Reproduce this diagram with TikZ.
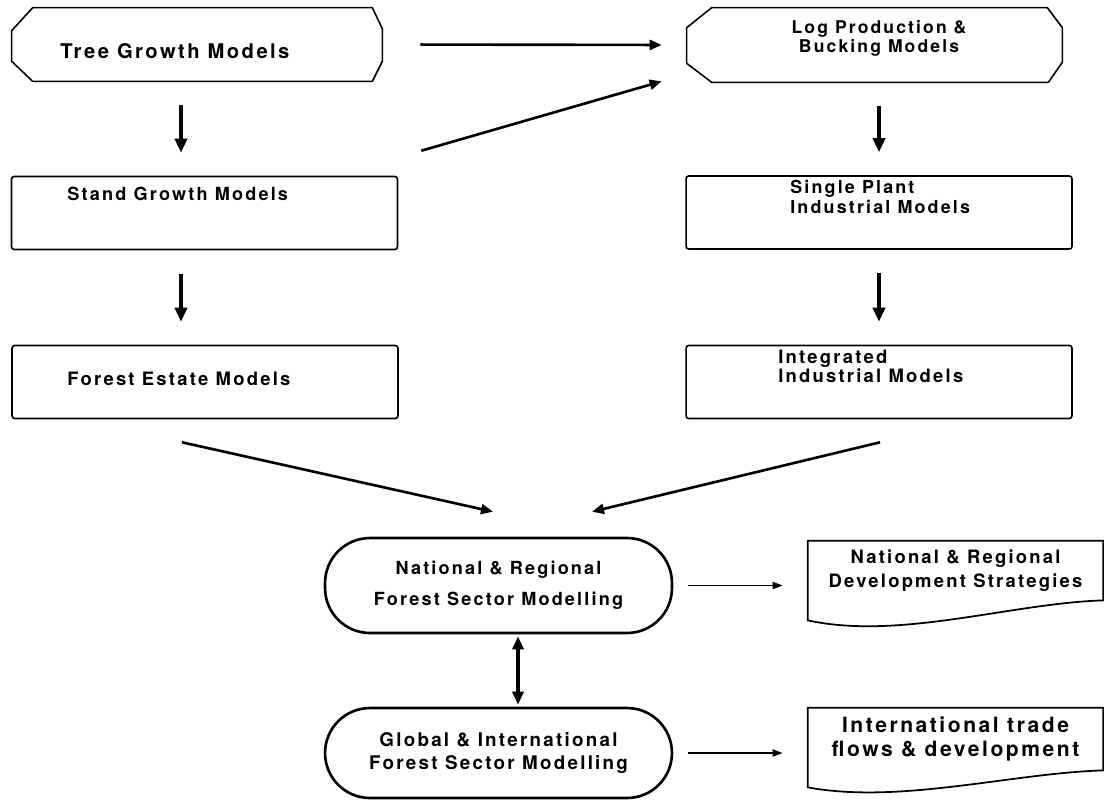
\documentclass[tikz,border=0pt]{standalone}
\usepackage{fontspec}
\newfontfamily\boxfont[LetterSpace=12]{TeX Gyre Heros}
\usetikzlibrary{arrows.meta,calc}

\begin{document}
\begin{tikzpicture}[x=0.02cm, y=-0.02cm,
		lettering/.style 2 args={font=\boxfont\bfseries\fontsize{#1}{#2}\selectfont},
		box/.style={draw, line width=0.9pt, rounded corners=1.5pt, minimum width=7.72cm, minimum height=1.46cm},
		octbox/.style={minimum height=1.46cm},
		octline/.style={line width=0.9pt, line join=round},
		pill/.style={draw, line width=1.5pt, rounded corners=0.9cm, minimum width=6.94cm, align=center},
		docbox/.style={minimum width=5.9cm, align=center},
		txt/.style={inner sep=0pt, anchor=north west, align=left},
		bigarrow/.style={line width=2.2pt, -{Triangle[width=0.24cm,length=0.28cm]}, shorten <=0.47cm, shorten >=0.46cm},
		arrow/.style={line width=1.5pt, -{Triangle[width=0.2cm,length=0.24cm]}},
		dblarrow/.style={line width=1.8pt, {Triangle[width=0.22cm,length=0.26cm]}-{Triangle[width=0.22cm,length=0.26cm]}, shorten <=0.04cm, shorten >=0.04cm},
		smallarrow/.style={line width=1pt, -{Triangle[width=0.14cm,length=0.2cm]}, shorten <=0.3cm, shorten >=0.5cm}]
	\useasboundingbox (0,0) rectangle (1104,801);

	% Top row
	\node[octbox, minimum width=7.4cm] (tree) at (197,44.5) {};
	\draw[octline] ($(tree.north west)+(21,0)$) -- ($(tree.north east)+(-10,0)$) -- ($(tree.north east)+(0,21)$)
		-- ($(tree.south east)+(0,-20)$) -- ($(tree.south east)+(-10,0)$) -- ($(tree.south west)+(21,0)$)
		-- ($(tree.south west)+(0,-20)$) -- ($(tree.north west)+(0,23)$) -- cycle;
	\node[txt, lettering={11.5}{13}] (treetxt) at (60,43) {Tree Growth Models};
	\node[octbox, minimum width=7.5cm, minimum height=1.48cm] (log) at (874.5,45) {};
	\draw[octline] ($(log.north west)+(25,0)$) -- ($(log.north east)+(-15,0)$) -- ($(log.north east)+(0,20)$)
		-- ($(log.south east)+(0,-20)$) -- ($(log.south east)+(-14,0)$) -- ($(log.south west)+(25,0)$)
		-- ($(log.south west)+(0,-19)$) -- ($(log.north west)+(0,20)$) -- cycle;
	\node[inner sep=0pt, anchor=north, align=center, lettering={10}{9.6}] (logtxt) at (879,20.5) {Log Production \&\\Bucking Models};

	% Left column
	\node[box] (stand) at (204.5,213) {};
	\node[txt, lettering={10.3}{12}] (standtxt) at (67,187) {Stand Growth Models};
	\node[box] (forest) at (205,382) {};
	\node[txt, lettering={10.5}{12}] (foresttxt) at (67,372) {Forest Estate Models};

	% Right column
	\node[box] (single) at (879,212.5) {};
	\node[txt, lettering={10.2}{11.3}] (singletxt) at (790,180) {Single Plant\\Industrial Models};
	\node[box] (integ) at (879,382) {};
	\node[txt, lettering={10.5}{10.8}] (integtxt) at (778,350) {Integrated\\Industrial Models};

	% Sector models
	\node[pill, minimum height=1.9cm, lettering={10.3}{17.6}] (nat) at (498.5,585.5) {National \& Regional\\Forest Sector Modelling};
	\node[pill, minimum height=1.8cm, lettering={10.7}{13}] (glob) at (498.5,753) {Global \& International\\Forest Sector Modelling};

	% Outputs
	\node[docbox, minimum height=1.18cm, lettering={10.5}{14}] (natdev) at (955.5,570.5) {National \& Regional\\Development Strategies};
	\node[docbox, minimum height=1.24cm, lettering={12}{13.6}] (intdev) at (955.5,739) {International trade\\flows \& development};
	\draw[line width=1pt] ($(natdev.south west)+(0,20)$) -- (natdev.north west) -- (natdev.north east) -- (natdev.south east)
		.. controls +(-93,3) and +(92,20) .. ($(natdev.south west)+(0,20)$) -- cycle;
	\draw[line width=1pt] ($(intdev.south west)+(0,17)$) -- (intdev.north west) -- (intdev.north east) -- (intdev.south east)
		.. controls +(-93,3) and +(92,17) .. ($(intdev.south west)+(0,17)$) -- cycle;

	% Connectors
	\coordinate (lcol) at (181,0);
	\coordinate (rcol) at (879,0);
	\coordinate (mcol) at (518,0);
	\draw[bigarrow] (tree.south -| lcol) -- (stand.north -| lcol);
	\draw[bigarrow] (stand.south -| lcol) -- (forest.north -| lcol);
	\draw[bigarrow] (log.south -| rcol) -- (single.north -| rcol);
	\draw[bigarrow] (single.south -| rcol) -- (integ.north -| rcol);
	\draw[arrow, shorten <=0.76cm, shorten >=0.5cm] (tree.east) -- (log.west);
	\draw[arrow] ($(stand.north east)+(23,-25)$) -- ($(log.south west)+(-25,-1)$);
	\draw[arrow] ($(forest.south)+(-23,23)$) -- ($(nat.north)+(-5.5,-25)$);
	\draw[arrow] ($(integ.south)+(1,23)$) -- ($(nat.north)+(93.5,-25)$);
	\draw[dblarrow] (nat.south -| mcol) -- (glob.north -| mcol);
	\draw[smallarrow] (nat.east) -- (nat.east -| natdev.west);
	\draw[smallarrow] (glob.east) -- (glob.east -| intdev.west);
\end{tikzpicture}
\end{document}
